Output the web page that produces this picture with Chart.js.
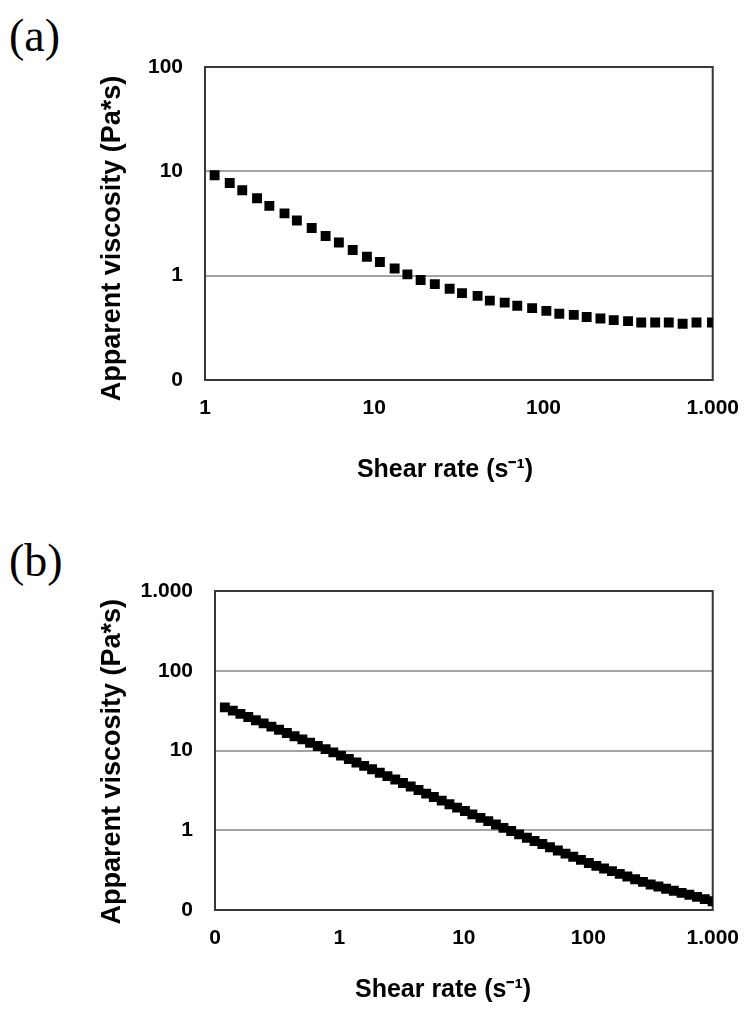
<!DOCTYPE html>
<html>
<head>
<meta charset="utf-8">
<script src="https://cdn.jsdelivr.net/npm/chart.js@4.4.1/dist/chart.umd.min.js"></script>
<style>
  html, body { margin: 0; padding: 0; background: #fff; }
  body { width: 755px; height: 1013px; position: relative; overflow: hidden; }
  .panel-label {
    position: absolute;
    left: 9px;
    font-family: 'Liberation Serif', 'Times New Roman', serif;
    font-size: 46px;
    line-height: 1;
    color: #000;
  }
  canvas { position: absolute; left: 0; }
</style>
</head>
<body>
<div class="panel-label" style="top: 13px;">(a)</div>
<canvas id="chartA" width="755" height="500" style="top: 0;"></canvas>
<div class="panel-label" style="top: 538px;">(b)</div>
<canvas id="chartB" width="755" height="493" style="top: 520px;"></canvas>

<script>
// (a) shear rate (1/s) and apparent viscosity (Pa*s)
const shearA = [1.14, 1.40, 1.66, 2.03, 2.40, 2.95, 3.49, 4.27, 5.16, 6.18, 7.46, 9.05, 10.8, 13.2, 15.7, 18.8, 22.8, 27.9, 33.0,
  40.8, 48.2, 59.0, 70.0, 85.7, 104, 124, 151, 180, 217, 260, 316, 378, 457, 550, 664, 802, 990];
const viscA = [9.16, 7.73, 6.59, 5.53, 4.67, 3.95, 3.38, 2.86, 2.40, 2.08, 1.76, 1.52, 1.35, 1.17, 1.03, 0.91, 0.83, 0.75, 0.68,
  0.64, 0.577, 0.552, 0.514, 0.489, 0.460, 0.431, 0.421, 0.401, 0.388, 0.375, 0.367, 0.356, 0.356, 0.356, 0.346, 0.356, 0.356];

// (b)
const shearB = [0.120, 0.139, 0.160, 0.185, 0.213, 0.246, 0.284, 0.327, 0.378, 0.436, 0.504, 0.581, 0.670, 0.774, 0.893,
  1.03, 1.19, 1.37, 1.58, 1.83, 2.11, 2.43, 2.81, 3.24, 3.74, 4.32, 4.98, 5.74, 6.64, 7.66, 8.83,
  10.2, 11.7, 13.6, 15.7, 18.1, 20.8, 24.0, 27.8, 32.1, 37.0, 42.7, 49.2, 56.9, 65.6, 75.7, 87.3,
  101, 116, 134, 155, 179, 206, 238, 275, 317, 366, 422, 487, 562, 649, 748, 863, 998];
const viscB = [34.7, 31.6, 28.8, 26.3, 24.0, 21.9, 19.9, 18.2, 16.6, 15.1, 13.8, 12.5, 11.4, 10.4, 9.48,
  8.63, 7.82, 7.08, 6.41, 5.81, 5.26, 4.77, 4.33, 3.91, 3.53, 3.19, 2.88, 2.61, 2.35, 2.12, 1.92,
  1.74, 1.58, 1.43, 1.30, 1.18, 1.07, 0.977, 0.887, 0.805, 0.734, 0.671, 0.612, 0.558, 0.509, 0.465, 0.425,
  0.388, 0.358, 0.332, 0.307, 0.284, 0.263, 0.243, 0.225, 0.209, 0.197, 0.185, 0.174, 0.164, 0.155, 0.146, 0.137, 0.129];

// axis ticks and the text Excel printed for them
const xTicksA = [1, 10, 100, 1000];
const xLabelsA = ['1', '10', '100', '1.000'];
const yTicksA = [0.1, 1, 10, 100];
const yLabelsA = ['0', '1', '10', '100'];

const xTicksB = [0.1, 1, 10, 100, 1000];
const xLabelsB = ['0', '1', '10', '100', '1.000'];
const yTicksB = [0.1, 1, 10, 100, 1000];
const yLabelsB = ['0', '1', '10', '100', '1.000'];

const FONT = "'Liberation Sans', Arial, sans-serif";

// titles sit a little off-centre in the original; trailing spaces nudge them
const padRight = (text, n) => text + ' '.repeat(n);

// black frame round the plot area, under the markers
const plotFrame = {
  id: 'plotFrame',
  beforeDatasetsDraw(chart) {
    const { ctx, chartArea: a } = chart;
    ctx.save();
    ctx.strokeStyle = '#383838';
    ctx.lineWidth = 2;
    ctx.strokeRect(a.left, a.top, a.right - a.left, a.bottom - a.top);
    ctx.restore();
  },
};

const buildChart = (id, cfg) => {
  const ctx = document.getElementById(id);
  const points = cfg.xs.map((x, i) => ({ x, y: cfg.ys[i] }));

  new Chart(ctx, {
    type: 'scatter',
    data: {
      datasets: [{
        data: points,
        pointStyle: 'rect',
        pointRadius: 7,
        pointBorderWidth: 0,
        backgroundColor: '#000',
        borderColor: '#000',
        showLine: false,
      }],
    },
    options: {
      responsive: false,
      animation: false,
      events: [],
      layout: { padding: { top: cfg.padTop, right: 38, left: 0, bottom: 0 } },
      plugins: { legend: { display: false }, tooltip: { enabled: false } },
      scales: {
        x: {
          type: 'logarithmic',
          min: cfg.xTicks[0],
          max: cfg.xTicks[cfg.xTicks.length - 1],
          afterBuildTicks: (scale) => { scale.ticks = cfg.xTicks.map(v => ({ value: v })); },
          afterFit: (scale) => { scale.height = cfg.xAxisHeight; },
          grid: { display: false, drawTicks: false },
          border: { display: false },
          ticks: {
            autoSkip: false,
            maxRotation: 0,
            padding: 16,
            color: '#000',
            font: { family: FONT, size: 21, weight: 'bold' },
            callback: (value, index) => cfg.xLabels[index],
          },
          title: {
            display: true,
            text: padRight('Shear rate (s⁻¹)', cfg.xTitleShift),
            color: '#000',
            font: { family: FONT, size: 25, weight: 'bold' },
            padding: { top: 0, bottom: cfg.xTitlePad },
          },
        },
        y: {
          type: 'logarithmic',
          min: cfg.yTicks[0],
          max: cfg.yTicks[cfg.yTicks.length - 1],
          afterBuildTicks: (scale) => { scale.ticks = cfg.yTicks.map(v => ({ value: v })); },
          afterFit: (scale) => { scale.width = cfg.yAxisWidth; },
          grid: { color: '#a3a3a3', lineWidth: 2, drawTicks: false },
          border: { display: false },
          ticks: {
            autoSkip: false,
            padding: 22,
            color: '#000',
            font: { family: FONT, size: 21, weight: 'bold' },
            callback: (value, index) => cfg.yLabels[index],
          },
          title: {
            display: true,
            text: padRight('Apparent viscosity (Pa*s)', cfg.yTitleShift),
            color: '#000',
            font: { family: FONT, size: 27, weight: 'bold' },
            padding: { top: 96, bottom: 0 },
          },
        },
      },
    },
    plugins: [plotFrame],
  });
};

buildChart('chartA', {
  xs: shearA, ys: viscA,
  xTicks: xTicksA, xLabels: xLabelsA,
  yTicks: yTicksA, yLabels: yLabelsA,
  padTop: 67, yAxisWidth: 205, xAxisHeight: 120, xTitlePad: 15,
  xTitleShift: 4, yTitleShift: 4,
});

buildChart('chartB', {
  xs: shearB, ys: viscB,
  xTicks: xTicksB, xLabels: xLabelsB,
  yTicks: yTicksB, yLabels: yLabelsB,
  padTop: 71, yAxisWidth: 215, xAxisHeight: 103, xTitlePad: 8,
  xTitleShift: 6, yTitleShift: 3,
});
</script>
</body>
</html>
